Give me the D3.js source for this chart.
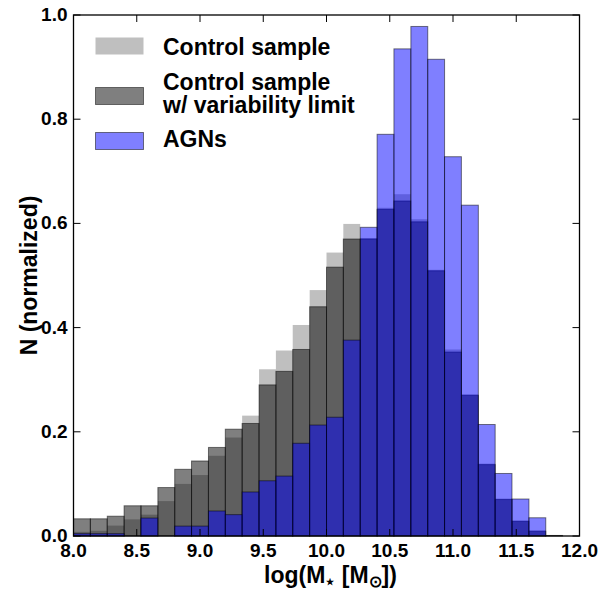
<!DOCTYPE html>
<html>
<head>
<meta charset="utf-8">
<script src="https://cdn.jsdelivr.net/npm/d3@7"></script>
<style>
    body { margin: 0; background: #fff; }
    svg text { font-family: 'Liberation Sans', Arial, sans-serif; font-weight: bold; }
</style>
</head>
<body>
<svg></svg>
<script>
// left edges of the histogram bins (width 4/30)
const binLeft = [8.000, 8.133, 8.267, 8.400, 8.533, 8.667, 8.800, 8.933, 9.067, 9.200,
                 9.333, 9.467, 9.600, 9.733, 9.867, 10.000, 10.133, 10.267, 10.400, 10.533,
                 10.667, 10.800, 10.933, 11.067, 11.200, 11.333, 11.467, 11.600, 11.733];
const binWidth = 4 / 30;

const controlSample = [0.008, 0.010, 0.020, 0.032, 0.041, 0.067, 0.100, 0.117, 0.154, 0.189,
                       0.231, 0.320, 0.356, 0.405, 0.472, 0.544, 0.599, 0.572, 0.630, 0.656,
                       0.608, 0.511, 0.358, 0.272, 0.139, 0.072, 0.030, 0.011, 0.002];
const controlVarLimit = [0.033, 0.033, 0.038, 0.058, 0.058, 0.093, 0.128, 0.144, 0.170, 0.205,
                         0.216, 0.290, 0.316, 0.358, 0.440, 0.516, 0.570, 0.570, 0.627, 0.643,
                         0.603, 0.509, 0.353, 0.270, 0.137, 0.070, 0.028, 0.009, 0.001];
const agns = [0.0045, 0.0045, 0.0045, 0, 0.0345, 0, 0.019, 0.019, 0.048, 0.041,
              0.0845, 0.106, 0.115, 0.178, 0.213, 0.228, 0.376, 0.5925, 0.771, 0.935,
              0.978, 0.915, 0.728, 0.635, 0.214, 0.120, 0.071, 0.035, 0];

const xTicks = [8.0, 8.5, 9.0, 9.5, 10.0, 10.5, 11.0, 11.5, 12.0];
const yTicks = [0.0, 0.2, 0.4, 0.6, 0.8, 1.0];

const seriesNames = ['Control sample', 'Control sample\nw/ variability limit', 'AGNs'];
const seriesFill = ['gray', 'black', 'blue'];

const width = 602, height = 592;
const plot = {left: 73.5, right: 579.5, top: 15, bottom: 536};

let svg = d3.select('svg')
    .attr('width', width)
    .attr('height', height);

let xScale = d3.scaleLinear().domain([8, 12]).range([plot.left, plot.right]);
let yScale = d3.scaleLinear().domain([0, 1]).range([plot.bottom, plot.top]);

function drawHist(values, i) {
    let g = svg.append('g').attr('class', 'hist-' + i);
    g.selectAll('rect')
        .data(values.map((v, k) => ({x0: binLeft[k], v: v})).filter(d => d.v > 0))
        .enter()
        .append('rect')
            .attr('x', d => xScale(d.x0))
            .attr('y', d => yScale(d.v))
            .attr('width', d => xScale(d.x0 + binWidth) - xScale(d.x0))
            .attr('height', d => yScale(0) - yScale(d.v))
            .attr('fill', seriesFill[i])
            .attr('fill-opacity', 0.5)
            .attr('stroke', i === 0 ? 'none' : 'black')
            .attr('stroke-opacity', 0.5)
            .attr('stroke-width', 1);
}

drawHist(controlSample, 0);
drawHist(controlVarLimit, 1);
drawHist(agns, 2);

// frame
svg.append('rect')
    .attr('x', plot.left)
    .attr('y', plot.top)
    .attr('width', plot.right - plot.left)
    .attr('height', plot.bottom - plot.top)
    .attr('fill', 'none')
    .attr('stroke', 'black')
    .attr('stroke-width', 1.3);

// ticks pointing inside on all four sides
const tickLen = 7;
let ticks = svg.append('g').attr('stroke', 'black').attr('stroke-width', 1);
xTicks.forEach(t => {
    ticks.append('line').attr('x1', xScale(t)).attr('x2', xScale(t))
        .attr('y1', plot.bottom).attr('y2', plot.bottom - tickLen);
    ticks.append('line').attr('x1', xScale(t)).attr('x2', xScale(t))
        .attr('y1', plot.top).attr('y2', plot.top + tickLen);
});
yTicks.forEach(t => {
    ticks.append('line').attr('x1', plot.left).attr('x2', plot.left + tickLen)
        .attr('y1', yScale(t)).attr('y2', yScale(t));
    ticks.append('line').attr('x1', plot.right).attr('x2', plot.right - tickLen)
        .attr('y1', yScale(t)).attr('y2', yScale(t));
});

// tick labels
svg.append('g').selectAll('text')
    .data(xTicks)
    .enter()
    .append('text')
        .attr('x', d => xScale(d))
        .attr('y', plot.bottom + 21)
        .attr('text-anchor', 'middle')
        .style('font-size', '19px')
        .text(d => d3.format('.1f')(d));

svg.append('g').selectAll('text')
    .data(yTicks)
    .enter()
    .append('text')
        .attr('x', plot.left - 6)
        .attr('y', d => yScale(d) + 6)
        .attr('text-anchor', 'end')
        .style('font-size', '19px')
        .text(d => d3.format('.1f')(d));

// axis labels
let xLabel = svg.append('text')
    .attr('x', (plot.left + plot.right) / 2 + 4)
    .attr('y', 583)
    .attr('text-anchor', 'middle')
    .style('font-size', '23px');
xLabel.append('tspan').text('log(M');
xLabel.append('tspan').text('\u22C6').style('font-size', '16px').attr('dy', 4);
xLabel.append('tspan').text(' [M').attr('dy', -4);
xLabel.append('tspan').text('\u2299').style('font-size', '16px').attr('dy', 4);
xLabel.append('tspan').text('])').attr('dy', -4);

svg.append('text')
    .attr('transform', `translate(37, ${(plot.top + plot.bottom) / 2}) rotate(-90)`)
    .attr('text-anchor', 'middle')
    .style('font-size', '23px')
    .text('N (normalized)');

// legend
const legendRows = [
    {patchY: 37, lines: [55]},
    {patchY: 87, lines: [90, 113]},
    {patchY: 132, lines: [147]}
];
let legend = svg.append('g');
legendRows.forEach((row, i) => {
    legend.append('rect')
        .attr('x', 95.5)
        .attr('y', row.patchY + 0.5)
        .attr('width', 48)
        .attr('height', 17)
        .attr('fill', seriesFill[i])
        .attr('fill-opacity', 0.5)
        .attr('stroke', i === 0 ? 'none' : 'black')
        .attr('stroke-opacity', 0.5);
    let label = seriesNames[i].split('\n');
    label.forEach((line, k) => {
        legend.append('text')
            .attr('x', 163)
            .attr('y', row.lines[k])
            .style('font-size', '23px')
            .text(line);
    });
});
</script>
</body>
</html>
